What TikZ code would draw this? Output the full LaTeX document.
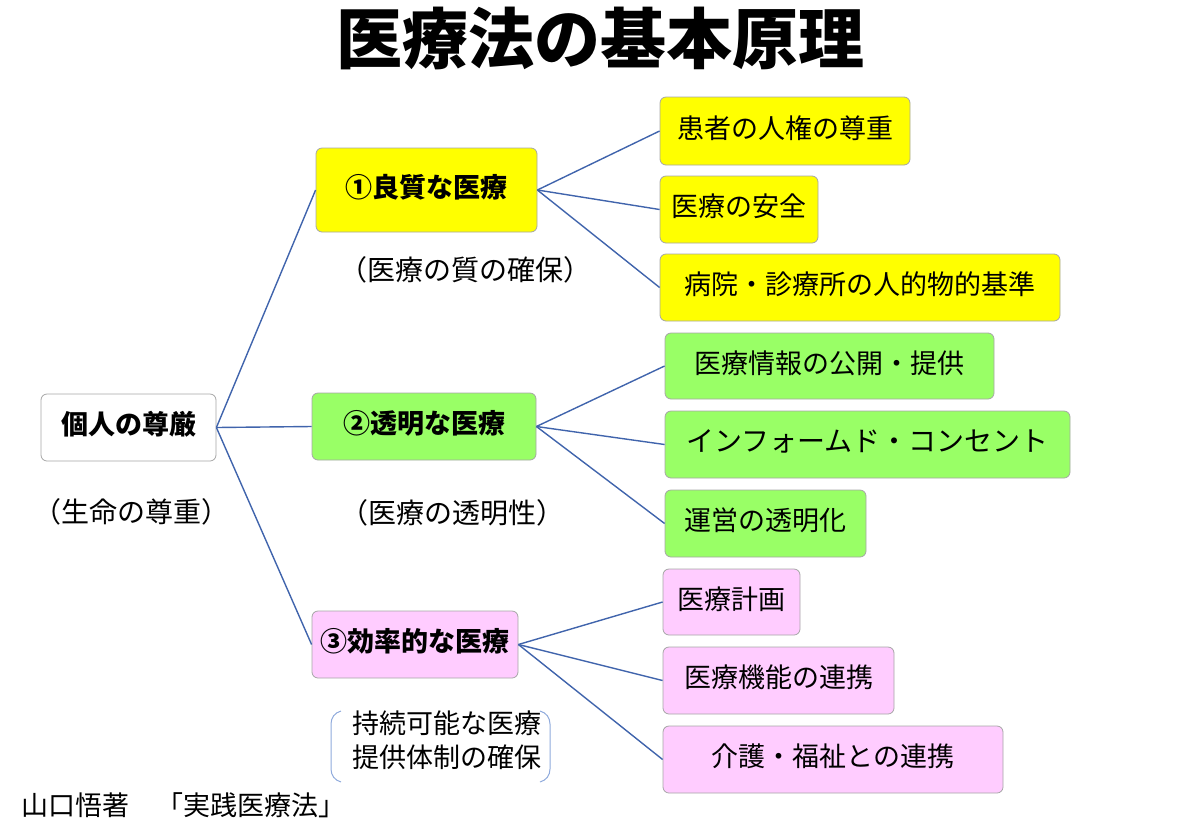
\documentclass[tikz,border=0pt]{standalone}
\usepackage{fontspec}
\setmainfont{Noto Sans CJK JP}

\definecolor{boxyellow}{RGB}{255,255,0}
\definecolor{boxgreen}{RGB}{153,255,102}
\definecolor{boxpink}{RGB}{255,204,255}
\definecolor{linkblue}{RGB}{64,100,172}
\definecolor{bracketblue}{RGB}{143,170,220}

\begin{document}
\begin{tikzpicture}[x=1pt,y=-1pt,
  box/.style={draw=black!35, line width=0.8pt, rounded corners=6pt, inner sep=0pt,
    text height=23pt, text depth=9pt, font=\fontsize{27}{32}\selectfont},
  mainbox/.style={box, font=\fontsize{27}{32}\selectfont\bfseries},
  link/.style={linkblue, line width=1.4pt},
  note/.style={font=\fontsize{28}{33}\selectfont}]

\useasboundingbox (0,0) rectangle (1200,831);

% title
\node (title) at (600,38) {\fontsize{66}{72}\selectfont\bfseries 医療法の基本原理};

% root
\node [mainbox, fill=white, minimum width=175pt, minimum height=67pt] (root) at (128.5,427.5) {個人の尊厳};
\node [note] (rootnote) at (132,512) {（生命の尊重）};

% three principles
\node [mainbox, fill=boxyellow, minimum width=221pt, minimum height=84pt] (quality) at (426.5,190) {①良質な医療};
\node [note] (qualitynote) at (465,270) {（医療の質の確保）};
\node [mainbox, fill=boxgreen, minimum width=224pt, minimum height=67pt] (open) at (424,426.5) {②透明な医療};
\node [note] (opennote) at (452,513) {（医療の透明性）};
\node [mainbox, fill=boxpink, minimum width=206pt, minimum height=67pt] (effic) at (415,644.5) {③効率的な医療};
\node [align=left, font=\fontsize{27}{34}\selectfont] (efficnote) at (447,740) {持続可能な医療\\提供体制の確保};

% bracket round the last note
\draw [bracketblue, line width=1pt]
   (341,711) to [out=195,in=90] (331,724) -- (331,769)
   to [out=-90,in=165] (341,782);
\draw [bracketblue, line width=1pt]
   (540,711) to [out=-15,in=90] (550,724) -- (550,769)
   to [out=-90,in=15] (540,782);

% leaves of (1)
\node [box, fill=boxyellow, minimum width=250pt, minimum height=68pt] (rights) at (785,131) {患者の人権の尊重};
\node [box, fill=boxyellow, minimum width=158pt, minimum height=67pt] (safety) at (739,209.5) {医療の安全};
\node [box, fill=boxyellow, minimum width=400pt, minimum height=67pt] (standard) at (860,287.5) {病院・診療所の人的物的基準};

% leaves of (2)
\node [box, fill=boxgreen, minimum width=329pt, minimum height=66pt] (disclose) at (829.5,366) {医療情報の公開・提供};
\node [box, fill=boxgreen, minimum width=405pt, minimum height=67pt, font=\fontsize{28}{33}\selectfont] (consent) at (867.5,444.5) {インフォームド・コンセント};
\node [box, fill=boxgreen, minimum width=201pt, minimum height=67pt] (manage) at (765.5,523.5) {運営の透明化};

% leaves of (3)
\node [box, fill=boxpink, minimum width=137pt, minimum height=66pt] (plan) at (731.5,602) {医療計画};
\node [box, fill=boxpink, minimum width=231pt, minimum height=67pt] (coop) at (778.5,680.5) {医療機能の連携};
\node [box, fill=boxpink, minimum width=340pt, minimum height=67pt] (care) at (833,759.5) {介護・福祉との連携};

% connectors
\draw [link] (root.east) -- (quality.west);
\draw [link] (root.east) -- (open.west);
\draw [link] (root.east) -- (effic.west);
\draw [link] (quality.east) -- (rights.west);
\draw [link] (quality.east) -- (safety.west);
\draw [link] (quality.east) -- (standard.west);
\draw [link] (open.east) -- (disclose.west);
\draw [link] (open.east) -- (consent.west);
\draw [link] (open.east) -- (manage.west);
\draw [link] (effic.east) -- (plan.west);
\draw [link] (effic.east) -- (coop.west);
\draw [link] (effic.east) -- (care.west);

% source
\node [anchor=west, font=\fontsize{27}{32}\selectfont] (source) at (18,805) {山口悟著　「実践医療法」};

\end{tikzpicture}
\end{document}
